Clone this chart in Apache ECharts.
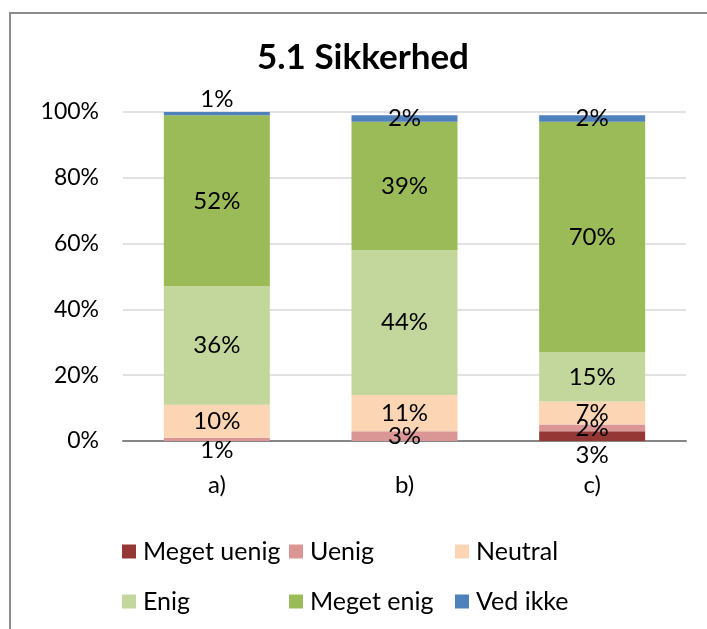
<!DOCTYPE html>
<html>
<head>
<meta charset="utf-8">
<script src="https://cdn.jsdelivr.net/npm/echarts@6/dist/echarts.min.js"></script>
<style>
html,body{margin:0;padding:0;background:#fff;}
#frame{position:absolute;left:9px;top:12px;width:720px;height:640px;border-left:2px solid #8c8c8c;border-top:2px solid #8c8c8c;box-sizing:border-box;}
#chart{position:absolute;left:0;top:0;width:707px;height:629px;}
</style>
</head>
<body>
<div id="frame"></div>
<div id="chart"></div>
<script>
const titleText = '5.1 Sikkerhed';
const categories = ['a)', 'b)', 'c)'];
const seriesNames = ['Meget uenig', 'Uenig', 'Neutral', 'Enig', 'Meget enig', 'Ved ikke'];
const megetUenig = [0, 0, 3];
const uenig = [1, 3, 2];
const neutral = [10, 11, 7];
const enig = [36, 44, 15];
const megetEnig = [52, 39, 70];
const vedIkke = [1, 2, 2];
const yTicks = [0, 20, 40, 60, 80, 100];

const colors = ['#953735', '#d99694', '#fcd5b5', '#c3d69b', '#9bbb59', '#4f81bd'];
const allValues = [megetUenig, uenig, neutral, enig, megetEnig, vedIkke];
// label nudges (pixels) for labels moved outside their segment in the original
const labelOffsets = {'1-0': 11, '5-0': -14, '0-2': 19};

const FONT = 'Lato';
const series = allValues.map((vals, si) => ({
  name: seriesNames[si],
  type: 'bar',
  stack: 'total',
  barWidth: 106,
  itemStyle: {color: colors[si]},
  label: {
    show: true,
    position: 'inside',
    color: '#000',
    fontFamily: FONT,
    fontSize: 24,
    formatter: p => p.value > 0 ? p.value + '%' : ''
  },
  data: vals.map((v, ci) => {
    const off = labelOffsets[si + '-' + ci];
    return off !== undefined ? {value: v, label: {offset: [0, off]}} : v;
  })
}));

const legendPos = [[122, 539], [289, 539], [455, 539], [122, 589], [289, 589], [455, 589]];
const legends = seriesNames.map((n, i) => ({
  data: [n],
  left: legendPos[i][0],
  top: legendPos[i][1],
  padding: 0,
  itemWidth: 14,
  itemHeight: 14,
  itemGap: 8,
  icon: 'rect',
  selectedMode: false,
  textStyle: {fontFamily: FONT, fontSize: 25, color: '#000', padding: [0, 0, 0, 2]}
}));

const chart = echarts.init(document.getElementById('chart'), null, {renderer: 'canvas'});
chart.setOption({
  backgroundColor: 'transparent',
  animation: false,
  title: {
    text: titleText,
    left: 257,
    top: 40,
    padding: 0,
    textStyle: {fontFamily: FONT, fontWeight: 'bold', fontSize: 35, color: '#000'}
  },
  legend: legends,
  grid: {left: 123, right: 21, top: 112, bottom: 188},
  xAxis: {
    type: 'category',
    data: categories,
    axisLine: {lineStyle: {color: '#868686', width: 2}},
    axisTick: {show: false},
    axisLabel: {fontFamily: FONT, fontSize: 24, color: '#000', margin: 32}
  },
  yAxis: {
    type: 'value',
    min: 0,
    max: 100,
    interval: 20,
    axisLine: {show: false},
    axisTick: {show: false},
    splitLine: {lineStyle: {color: '#d9d9d9', width: 1.5}},
    axisLabel: {
      fontFamily: FONT, fontSize: 23, color: '#000', margin: 24,
      formatter: v => yTicks.includes(v) ? v + '%' : ''
    }
  },
  series: series
});
</script>
</body>
</html>
